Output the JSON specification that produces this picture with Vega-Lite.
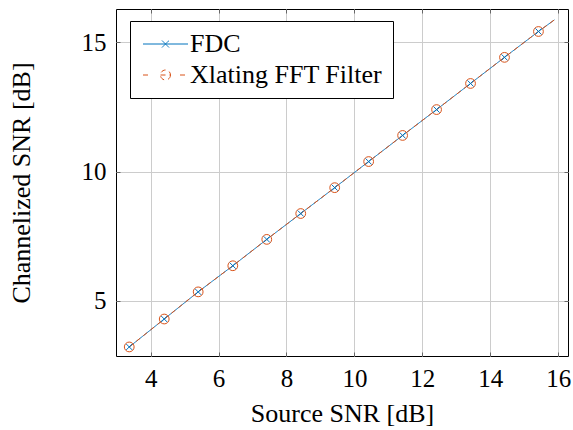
{
  "$schema": "https://vega.github.io/schema/vega-lite/v6.json",
  "width": 452,
  "height": 347,
  "autosize": {"type": "none"},
  "padding": {"left": 116, "top": 9, "right": 5, "bottom": 74},
  "background": "white",
  "config": {
    "font": "Liberation Serif",
    "view": {"stroke": "black", "strokeWidth": 1},
    "axis": {
      "domain": false,
      "gridColor": "#cccccc",
      "gridWidth": 1,
      "tickColor": "#666666",
      "tickSize": -4,
      "labelFont": "Liberation Serif",
      "labelFontSize": 25,
      "labelColor": "black",
      "titleFont": "Liberation Serif",
      "titleFontSize": 26,
      "titleFontWeight": "normal",
      "titleColor": "black"
    }
  },
  "data": {
    "values": [
      {"snr": 3.37, "out": 3.22, "series": "FDC"},
      {"snr": 4.4, "out": 4.3, "series": "FDC"},
      {"snr": 5.4, "out": 5.35, "series": "FDC"},
      {"snr": 6.42, "out": 6.36, "series": "FDC"},
      {"snr": 7.42, "out": 7.38, "series": "FDC"},
      {"snr": 8.42, "out": 8.38, "series": "FDC"},
      {"snr": 9.42, "out": 9.38, "series": "FDC"},
      {"snr": 10.42, "out": 10.39, "series": "FDC"},
      {"snr": 11.42, "out": 11.4, "series": "FDC"},
      {"snr": 12.42, "out": 12.4, "series": "FDC"},
      {"snr": 13.42, "out": 13.41, "series": "FDC"},
      {"snr": 14.42, "out": 14.42, "series": "FDC"},
      {"snr": 15.42, "out": 15.42, "series": "FDC"},
      {"snr": 15.89, "out": 15.87, "series": "FDC"},
      {"snr": 3.37, "out": 3.22, "series": "Xlating FFT Filter"},
      {"snr": 4.4, "out": 4.3, "series": "Xlating FFT Filter"},
      {"snr": 5.4, "out": 5.35, "series": "Xlating FFT Filter"},
      {"snr": 6.42, "out": 6.36, "series": "Xlating FFT Filter"},
      {"snr": 7.42, "out": 7.38, "series": "Xlating FFT Filter"},
      {"snr": 8.42, "out": 8.38, "series": "Xlating FFT Filter"},
      {"snr": 9.42, "out": 9.38, "series": "Xlating FFT Filter"},
      {"snr": 10.42, "out": 10.39, "series": "Xlating FFT Filter"},
      {"snr": 11.42, "out": 11.4, "series": "Xlating FFT Filter"},
      {"snr": 12.42, "out": 12.4, "series": "Xlating FFT Filter"},
      {"snr": 13.42, "out": 13.41, "series": "Xlating FFT Filter"},
      {"snr": 14.42, "out": 14.42, "series": "Xlating FFT Filter"},
      {"snr": 15.42, "out": 15.42, "series": "Xlating FFT Filter"},
      {"snr": 15.89, "out": 15.87, "series": "Xlating FFT Filter"}
    ]
  },
  "resolve": {"axis": {"x": "independent", "y": "independent"}},
  "layer": [
    {
      "mark": {"type": "line", "strokeWidth": 1},
      "encoding": {
        "x": {"field": "snr", "type": "quantitative", "scale": {"domain": [2.98, 16.29], "nice": false, "zero": false},
              "axis": {"values": [4, 6, 8, 10, 12, 14, 16], "title": "Source SNR [dB]", "labelPadding": 14, "titlePadding": 9}},
        "y": {"field": "out", "type": "quantitative", "scale": {"domain": [2.87, 16.29], "nice": false, "zero": false},
              "axis": {"values": [5, 10, 15], "title": "Channelized SNR [dB]", "labelPadding": 14, "titlePadding": 47}},
        "color": {
          "field": "series", "type": "nominal",
          "scale": {"domain": ["FDC", "Xlating FFT Filter"], "range": ["#0072BD", "#D95319"]},
          "legend": {
            "title": null,
            "orient": "none",
            "legendX": 14,
            "legendY": 12,
            "fillColor": "white",
            "strokeColor": "black",
            "padding": 10,
            "rowPadding": 5,
            "symbolSize": 400,
            "symbolStrokeWidth": 1,
            "labelFont": "Liberation Serif",
            "labelFontSize": 26,
            "labelColor": "black",
            "labelLimit": 0,
            "labelOffset": 24,
            "cornerRadius": 0,
            "encode": {
              "symbols": {
                "update": {
                  "shape": {"signal": "datum.value === 'FDC' ? 'M-1,0H3.5M0.9,-0.35L1.6,0.35M0.9,0.35L1.6,-0.35' : 'M-1,0H-0.2M0.75,0H1.75M2.7,0H3.5M1.75,0A0.5,0.5 0 1,1 0.75,0A0.5,0.5 0 1,1 1.75,0'"},
                  "fill": {"value": "transparent"},
                  "strokeDash": {"value": []},
                  "strokeWidth": {"value": 1},
                  "opacity": {"value": 1}
                }
              }
            }
          }
        },
        "strokeDash": {
          "field": "series", "type": "nominal",
          "scale": {"domain": ["FDC", "Xlating FFT Filter"], "range": [[1, 0], [5, 4]]},
          "legend": null
        }
      }
    },
    {
      "transform": [{"filter": "datum.series === 'Xlating FFT Filter' && datum.snr < 15.6"}],
      "mark": {"type": "point", "filled": false, "strokeWidth": 1, "opacity": 1, "shape": "circle", "size": 95, "color": "#D95319"},
      "encoding": {
        "x": {"field": "snr", "type": "quantitative", "axis": null},
        "y": {"field": "out", "type": "quantitative", "axis": null}
      }
    },
    {
      "transform": [{"filter": "datum.series === 'FDC' && datum.snr < 15.6"}],
      "mark": {"type": "point", "filled": false, "strokeWidth": 1, "opacity": 1, "shape": "M-1,-1L1,1M-1,1L1,-1", "size": 36, "color": "#0072BD"},
      "encoding": {
        "x": {"field": "snr", "type": "quantitative", "axis": null},
        "y": {"field": "out", "type": "quantitative", "axis": null}
      }
    },
    {
      "mark": {"type": "rule", "opacity": 0},
      "encoding": {
        "x": {"field": "snr", "type": "quantitative",
              "axis": {"orient": "top", "labels": false, "grid": false, "title": null, "values": [4, 6, 8, 10, 12, 14, 16]}},
        "y": {"field": "out", "type": "quantitative",
              "axis": {"orient": "right", "labels": false, "grid": false, "title": null, "values": [5, 10, 15]}}
      }
    }
  ]
}
